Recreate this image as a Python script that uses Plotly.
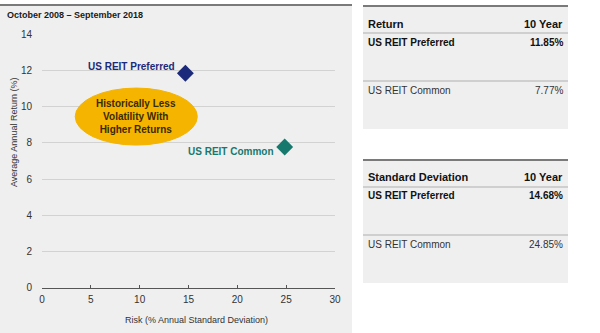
import plotly.graph_objects as go

# Risk / return data, October 2008 - September 2018
names = ["US REIT Preferred", "US REIT Common"]
returns = [11.85, 7.77]          # average annual return, %
std_devs = [14.68, 24.85]        # annual standard deviation, %
colors = ["#1b2a7a", "#17796d"]
period = "October 2008 \u2013 September 2018"
x_ticks = [0, 5, 10, 15, 20, 25, 30]
y_ticks = [0, 2, 4, 6, 8, 10, 12, 14]
x_title = "Risk (% Annual Standard Deviation)"
y_title = "Average Annual Return (%)"
callout = "Historically Less<br>Volatility With<br>Higher Returns"

W, H = 600, 333
FONT = "Liberation Sans, Arial, sans-serif"


def px_x(p):
    return p / W


def px_y(p):
    return 1 - p / H


fig = go.Figure()

for n, r, s, c in zip(names, returns, std_devs, colors):
    fig.add_trace(go.Scatter(
        x=[s], y=[r], mode="markers", name=n,
        marker=dict(symbol="diamond", size=13, color=c),
        hoverinfo="x+y+name", showlegend=False,
    ))

shapes = []
annotations = []

# left panel background and top rule
shapes.append(dict(type="rect", xref="paper", yref="paper", layer="below",
                   x0=px_x(0), x1=px_x(352), y0=px_y(333), y1=px_y(5),
                   fillcolor="#efefef", line_width=0))
shapes.append(dict(type="line", xref="paper", yref="paper",
                   x0=px_x(0), x1=px_x(352), y0=px_y(5), y1=px_y(5),
                   line=dict(color="#7a7a7a", width=2)))

annotations.append(dict(text="<b>" + period + "</b>", xref="paper", yref="paper",
                        x=px_x(5), y=px_y(15), xanchor="left", yanchor="middle",
                        showarrow=False, font=dict(size=9, color="#1a1a1a", family=FONT)))

# axis titles
annotations.append(dict(text=y_title, xref="paper", yref="paper",
                        x=px_x(14), y=px_y(133), textangle=-90,
                        xanchor="center", yanchor="middle", showarrow=False,
                        font=dict(size=9, color="#333", family=FONT)))
annotations.append(dict(text=x_title, xref="paper", yref="paper",
                        x=px_x(196), y=px_y(320),
                        xanchor="center", yanchor="middle", showarrow=False,
                        font=dict(size=9, color="#333", family=FONT)))

# callout ellipse
shapes.append(dict(type="circle", xref="x", yref="y", layer="above",
                   x0=3.4, x1=15.9, y0=7.88, y1=11.03,
                   fillcolor="#f5b400", line=dict(color="#f5b400", width=1)))
annotations.append(dict(text="<b>" + callout + "</b>", xref="x", yref="y",
                        x=9.65, y=9.45, showarrow=False, align="center",
                        font=dict(size=10, color="#3a2a00", family=FONT)))

# point labels
label_shift = [(-8, 7), (-9, -4)]
for n, r, s, c, (dx, dy) in zip(names, returns, std_devs, colors, label_shift):
    annotations.append(dict(text="<b>" + n + "</b>", xref="x", yref="y", x=s, y=r,
                            xanchor="right", yanchor="middle", xshift=dx, yshift=dy,
                            showarrow=False, font=dict(size=10, color=c, family=FONT)))

# right-hand tables
tables = [
    ("Return", returns, 6, [24, 33, 43, 81, 90, 129]),
    ("Standard Deviation", std_devs, 160, [177, 187, 196, 235, 244, 283]),
]
tx0, tx1 = 363, 568
for title, vals, top, (hy, l1, r1y, l2, r2y, bot) in tables:
    shapes.append(dict(type="rect", xref="paper", yref="paper", layer="below",
                       x0=px_x(tx0), x1=px_x(tx1), y0=px_y(bot), y1=px_y(top),
                       fillcolor="#efefef", line_width=0))
    shapes.append(dict(type="line", xref="paper", yref="paper",
                       x0=px_x(tx0), x1=px_x(tx1), y0=px_y(top), y1=px_y(top),
                       line=dict(color="#7a7a7a", width=2)))
    for ly in (l1, l2):
        shapes.append(dict(type="line", xref="paper", yref="paper",
                           x0=px_x(tx0), x1=px_x(tx1), y0=px_y(ly), y1=px_y(ly),
                           line=dict(color="#c4c4c4", width=1.5)))
    annotations.append(dict(text="<b>" + title + "</b>", xref="paper", yref="paper",
                            x=px_x(366), y=px_y(hy), xanchor="left", yanchor="middle",
                            showarrow=False, font=dict(size=11, color="#111", family=FONT)))
    annotations.append(dict(text="<b>10 Year</b>", xref="paper", yref="paper",
                            x=px_x(565), y=px_y(hy), xanchor="right", yanchor="middle",
                            showarrow=False, font=dict(size=11, color="#111", family=FONT)))
    for i, (n, v, ry) in enumerate(zip(names, vals, (r1y, r2y))):
        bold = i == 0
        t_name = "<b>" + n + "</b>" if bold else n
        t_val = f"<b>{v:.2f}%</b>" if bold else f"{v:.2f}%"
        col = "#111" if bold else "#333"
        annotations.append(dict(text=t_name, xref="paper", yref="paper",
                                x=px_x(366), y=px_y(ry), xanchor="left", yanchor="middle",
                                showarrow=False, font=dict(size=10, color=col, family=FONT)))
        annotations.append(dict(text=t_val, xref="paper", yref="paper",
                                x=px_x(565), y=px_y(ry), xanchor="right", yanchor="middle",
                                showarrow=False, font=dict(size=10, color=col, family=FONT)))

fig.update_layout(
    width=W, height=H,
    margin=dict(l=0, r=0, t=0, b=0),
    paper_bgcolor="white",
    plot_bgcolor="rgba(0,0,0,0)",
    font=dict(family=FONT, size=10, color="#333"),
    shapes=shapes,
    annotations=annotations,
    xaxis=dict(
        domain=[px_x(42), px_x(335)], range=[0, 30],
        tickvals=x_ticks, ticktext=[str(t) for t in x_ticks],
        showgrid=False, zeroline=False,
        showline=True, linecolor="#555", linewidth=1.2,
        ticks="inside", ticklen=3, tickcolor="#555",
        ticklabelstandoff=2,
        tickfont=dict(size=10, color="#333"),
        automargin=False, fixedrange=True,
    ),
    yaxis=dict(
        domain=[px_y(287.7), px_y(34.3)], range=[0, 14],
        tickvals=y_ticks, ticktext=[str(t) for t in y_ticks],
        showgrid=True, gridcolor="#d2d2d2", gridwidth=1,
        zeroline=False, showline=False, ticks="",
        ticklabelstandoff=9,
        tickfont=dict(size=10, color="#333"),
        automargin=False, fixedrange=True,
    ),
    showlegend=False,
)

fig.write_html("out.html")
